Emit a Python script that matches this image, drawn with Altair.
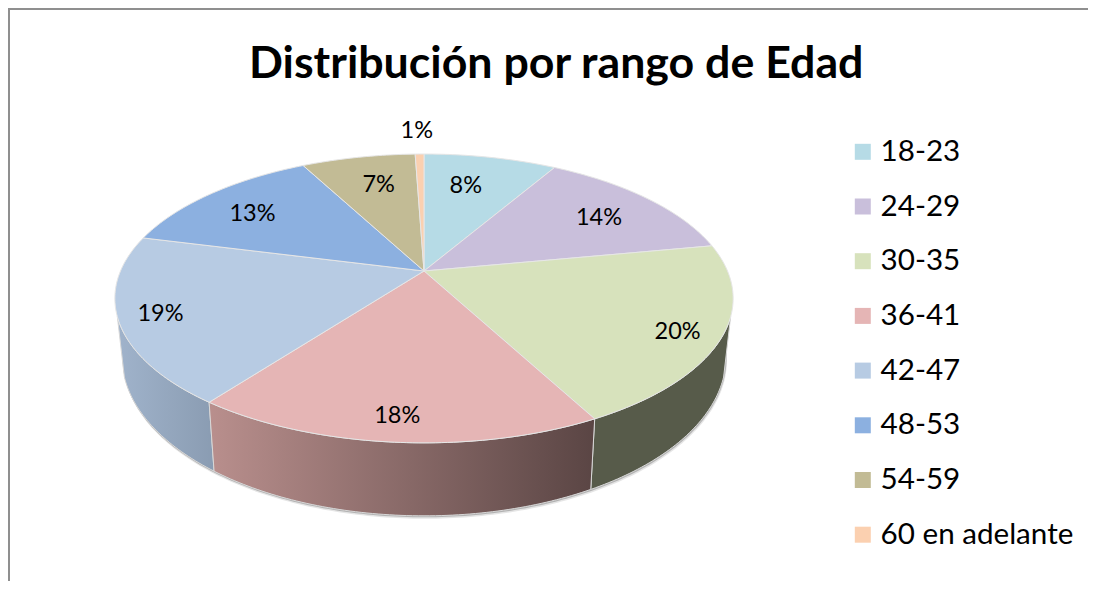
import math
import altair as alt

rangos = ["18-23", "24-29", "30-35", "36-41", "42-47", "48-53", "54-59", "60 en adelante"]
porcentajes = [8.35, 13.65, 20.25, 18.0, 18.75, 13.3, 7.15, 0.55]
colores = ["#B6DBE6", "#C9BFDB", "#D7E2BC", "#E5B5B5", "#B7CBE3", "#8CB0E0", "#C2BB95", "#FBD0B0"]
radio_etiqueta = [0.72, 0.75, 0.87, 0.87, 0.87, 0.76, 0.73, 1.25]
giro_etiqueta = [-0.7, 0.4, 0.5, 0.1, 0.0, -0.6, 0.4, -0.1]

OX, OY = 8, 8          # plot-area origin on the page
CX, CY = 424, 271      # apex of the pie on the page
FONT = "Lato"


def top(pct, r=1.0):
    """Perspective view of the pie's top disc; pct runs clockwise from 12 o'clock."""
    t = 2 * math.pi * pct / 100
    X, Y = r * math.sin(t), -r * math.cos(t)
    d = 1 - 0.19 * Y
    return CX + 303.5 * X / d, (CY + 87.7 * Y) / d


def low(pct):
    x, y = top(pct)
    return CX + 0.977 * (x - CX), 1.1 * y + 28.7


def pts(f, a, b, step=0.25):
    n = max(2, int(abs(b - a) / step))
    return [f(a + (b - a) * i / n) for i in range(n + 1)]


def to_plot(points):
    return [[x - OX, -(y - OY)] for x, y in points]


def feature(points, **props):
    ring = to_plot(points)
    ring.append(ring[0])
    return {"type": "Feature", "properties": props, "geometry": {"type": "Polygon", "coordinates": [ring]}}


def values(feats):
    return alt.Data(values=feats)


cum = [0]
for p in porcentajes:
    cum.append(cum[-1] + p)

proj = dict(type="identity", reflectY=True, scale=1, translate=[0, 0])

# chart-area border: only its left and top sides fall inside the picture
W, H = 1080, 573
borde = (
    alt.Chart(values([{
        "type": "Feature", "properties": {},
        "geometry": {"type": "LineString", "coordinates": to_plot([(9, H + 40), (9, 9), (W + 40, 9)])},
    }]))
    .mark_geoshape(filled=False, stroke="#8F8F8F", strokeWidth=2, clip=True)
    .project(**proj)
)

# soft shadow under the pie
shadow = []
for dx, dy, op in [(1, 3, 0.10), (0.5, 1.5, 0.22)]:
    ring = [(x + dx, y + dy) for x, y in pts(low, 0, 100)]
    shadow.append(
        alt.Chart(values([feature(ring)])).mark_geoshape(fill="#000000", opacity=op, strokeWidth=0).project(**proj)
    )

def wall(a, b, fill):
    ring = pts(top, a, b) + pts(low, b, a)
    return alt.Chart(values([feature(ring)])).mark_geoshape(fill=fill, stroke="#D8D8D8", strokeWidth=1).project(**proj)


def grad(c0, c1):
    return alt.Gradient(gradient="linear", x1=0, x2=1, y1=0, y2=0,
                        stops=[alt.GradientStop(color=c0, offset=0), alt.GradientStop(color=c1, offset=1)])


walls = [
    wall(cum[4], 70, grad("#A0B3CB", "#8A9CB2")),
    wall(30, cum[3], "#575B4A"),
    wall(cum[3], cum[4], grad("#B98F8D", "#5A4544")),
]

faces = [
    feature([(CX, CY)] + pts(top, cum[i], cum[i + 1]), rango=rangos[i])
    for i in range(len(rangos))
]
caras = (
    alt.Chart(values(faces))
    .mark_geoshape(stroke="#E6E6E6", strokeWidth=1)
    .encode(
        color=alt.Color(
            "properties.rango:N",
            scale=alt.Scale(domain=rangos, range=colores),
            legend=alt.Legend(
                title=None, orient="none", legendX=840, legendY=129,
                symbolType="square", symbolSize=256, symbolStrokeWidth=0, symbolOpacity=1,
                labelFont=FONT, labelFontSize=29.6, labelColor="#000000", labelLimit=300,
                labelOffset=3, rowPadding=23.7,
            ),
        )
    )
    .project(**proj)
)

etiquetas = []
for i, p in enumerate(porcentajes):
    x, y = top((cum[i] + cum[i + 1]) / 2 + giro_etiqueta[i], radio_etiqueta[i])
    etiquetas.append({"lon": x - OX, "lat": -(y - OY), "txt": f"{round(p)}%"})

textos = (
    alt.Chart(alt.Data(values=etiquetas))
    .mark_text(font=FONT, fontSize=23.5, color="#000000", align="center", baseline="middle", dy=1)
    .encode(longitude="lon:Q", latitude="lat:Q", text="txt:N")
    .project(**proj)
)

chart = (
    alt.layer(borde, *shadow, *walls, caras, textos)
    .properties(
        width=W,
        height=H,
        padding=0,
        title=alt.TitleParams(
            "Distribución por rango de Edad", anchor="start", frame="group", offset=-80, dx=241,
            font=FONT, fontSize=44.7, fontWeight="bold", color="#000000",
        ),
    )
    .configure_view(strokeWidth=0)
    .configure(background="#FFFFFF")
)

chart.save("out.html", embed_options={"renderer": "svg", "actions": False})
